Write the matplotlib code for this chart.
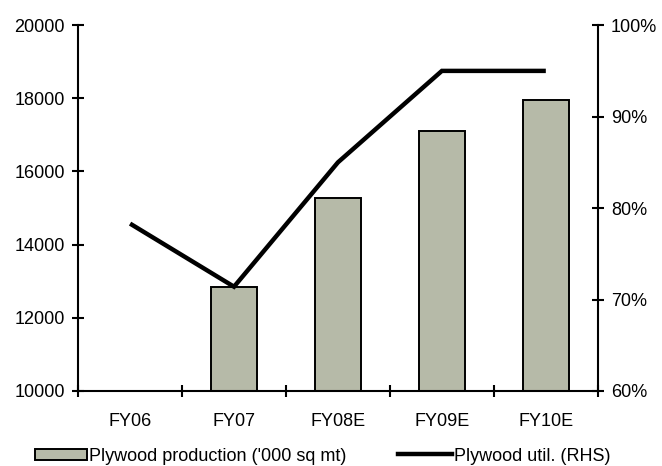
import numpy as np
import matplotlib
matplotlib.use('Agg')
from matplotlib import pyplot as plt
from matplotlib.ticker import FuncFormatter
from matplotlib.patches import Patch
from matplotlib.lines import Line2D

plt.rcParams['font.family'] = ['Liberation Sans', 'DejaVu Sans']

years = ['FY06', 'FY07', 'FY08E', 'FY09E', 'FY10E']
production = [np.nan, 12850, 15280, 17100, 17950]   # '000 sq mt
utilisation = [0.783, 0.714, 0.85, 0.95, 0.95]      # RHS

bar_col = '#b6baa8'
fs = 13

fig = plt.figure(figsize=(6.62, 4.66), dpi=100)
ax = fig.add_axes([0.118, 0.161, 0.785, 0.785])
ax2 = ax.twinx()

x = np.arange(len(years))
ax.bar(x, production, width=0.44, bottom=0, color=bar_col,
       edgecolor='black', linewidth=1.4, zorder=2)
ax2.plot(x, utilisation, color='black', linewidth=3.2, solid_capstyle='butt',
         solid_joinstyle='miter')

ax.set_xlim(-0.5, len(years) - 0.5)
ax.set_ylim(10000, 20000)
ax.set_yticks(np.arange(10000, 20001, 2000))
ax2.set_ylim(0.6, 1.0)
ax2.set_yticks(np.arange(0.6, 1.001, 0.1))
ax2.yaxis.set_major_formatter(FuncFormatter(lambda v, p: '%d%%' % round(v * 100)))

# category boundaries get the ticks, labels sit in the middle
ax.set_xticks(np.arange(-0.5, len(years), 1.0))
ax.set_xticklabels([])
ax.set_xticks(x, minor=True)
ax.set_xticklabels(years, minor=True)
ax.tick_params(axis='x', which='minor', length=0, pad=16, labelsize=fs)
ax.tick_params(axis='x', which='major', direction='inout', length=9, width=1.5)
ax.tick_params(axis='y', direction='inout', length=9, width=1.5, labelsize=fs, pad=5)
ax2.tick_params(axis='y', direction='inout', length=9, width=1.5, labelsize=fs, pad=5)

for a in (ax, ax2):
    a.spines['top'].set_visible(False)
    for s in ('left', 'right', 'bottom'):
        a.spines[s].set_linewidth(1.5)
ax.spines['right'].set_visible(False)
ax2.spines['left'].set_visible(False)
ax2.spines['bottom'].set_visible(False)

# two legend entries, placed side by side under the axis
leg1 = fig.legend([Patch(facecolor=bar_col, edgecolor='black', linewidth=1.4)],
                  ["Plywood production ('000 sq mt)"],
                  loc='center left', bbox_to_anchor=(0.053, 0.021),
                  frameon=False, fontsize=fs, handlelength=2.9, handleheight=0.6,
                  handletextpad=0.1, borderpad=0, borderaxespad=0)
leg2 = fig.legend([Line2D([0], [0], color='black', linewidth=3.2)],
                  ['Plywood util. (RHS)'],
                  loc='center left', bbox_to_anchor=(0.601, 0.021),
                  frameon=False, fontsize=fs, handlelength=3.0,
                  handletextpad=0.1, borderpad=0, borderaxespad=0)

plt.savefig('out.png', dpi=100)
